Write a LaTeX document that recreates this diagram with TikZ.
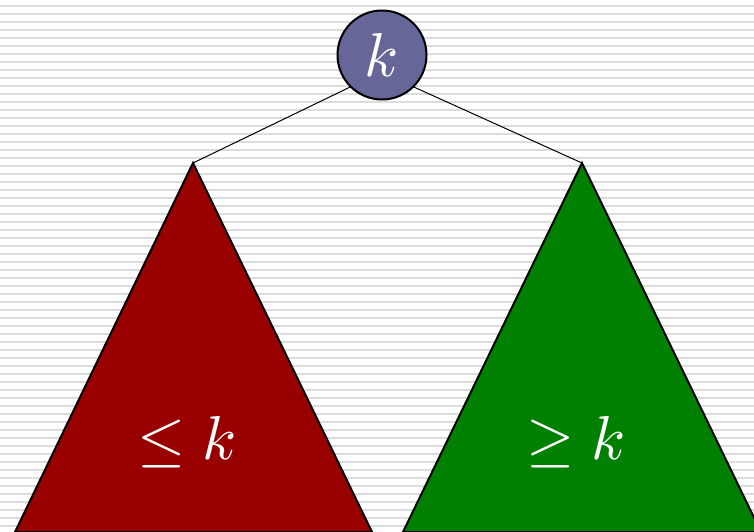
\documentclass[tikz,border=0pt]{standalone}
\usepackage{graphicx}
\definecolor{stripe}{HTML}{DCDCDC}
\definecolor{rootfill}{HTML}{666699}
\definecolor{lred}{HTML}{990000}
\definecolor{rgreen}{HTML}{008000}
\newcommand{\bigtxt}[1]{\scalebox{6.2}{#1}}
\begin{document}
\begin{tikzpicture}[x=1pt,y=-1pt,
  tri/.style={draw=black,line width=2pt,line join=miter},
  lbl/.style={text=white,inner sep=0pt},
  edge/.style={draw=black,line width=1pt}]
\useasboundingbox (0,0) rectangle (754,532);
\clip (0,0) rectangle (754,532);
\foreach \i in {0,...,65}{
  \fill[stripe] (0,{5+8*\i}) rectangle (754,{7+8*\i});
}
\coordinate (la) at (193,163);
\coordinate (ra) at (582,163);
\filldraw[tri,fill=lred] (la) -- (15,532) -- (372,532) -- cycle;
\filldraw[tri,fill=rgreen] (ra) -- (403,532) -- (761,532) -- cycle;
\node[circle,draw=black,line width=2pt,fill=rootfill,minimum size=89pt,lbl] (root) at (382,55) {\bigtxt{$k$}};
\draw[edge] (root.south west) -- (la);
\draw[edge] (root.south east) -- (ra);
\node[lbl] (ltxt) at (187,442) {\bigtxt{$\leq k$}};
\node[lbl] (rtxt) at (576,442) {\bigtxt{$\geq k$}};
\end{tikzpicture}
\end{document}
